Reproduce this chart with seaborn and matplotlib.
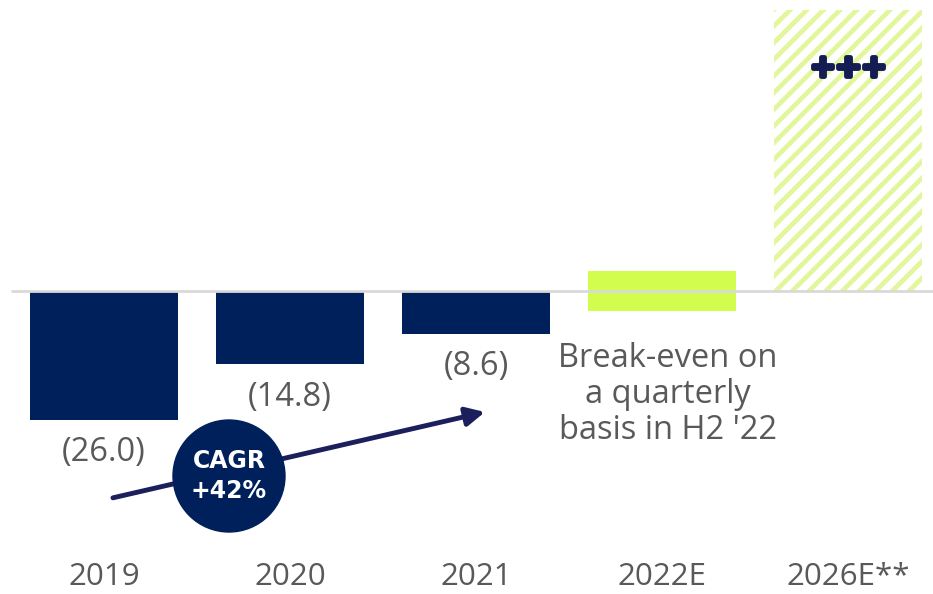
import matplotlib
matplotlib.use("Agg")
import matplotlib.pyplot as plt
import matplotlib.patheffects as pe
from matplotlib.patches import Ellipse
import seaborn as sns

# data
years = ["2019", "2020", "2021", "2022E", "2026E**"]
actual_years = ["2019", "2020", "2021"]
actual_values = [-26.0, -14.8, -8.6]
actual_labels = ["(26.0)", "(14.8)", "(8.6)"]
breakeven_year = "2022E"
breakeven_band = [4.0, -4.0]
outlook_year = "2026E**"
outlook_value = 56.7

navy = "#00205B"
lime = "#D2FC4E"
hatch_lime = "#E2F79C"
grey_text = "#595959"

sns.set_theme(style="white")
plt.rcParams["font.family"] = ["Open Sans", "DejaVu Sans"]
plt.rcParams["hatch.linewidth"] = 3.4

fig = plt.figure(figsize=(9.33, 5.94), dpi=100)
ax = fig.add_axes([0, 0, 1, 1])

# actual results
sns.barplot(x=actual_years, y=actual_values, order=years, color=navy,
            width=0.8, saturation=1, linewidth=0, ax=ax)

# 2022E break-even band
for v in breakeven_band:
    sns.barplot(x=[breakeven_year], y=[v], order=years, color=lime,
                width=0.8, saturation=1, linewidth=0, ax=ax)

# 2026E outlook, hatched
sns.barplot(x=[outlook_year], y=[outlook_value], order=years, color="white",
            width=0.8, saturation=1, ax=ax)
out_bar = ax.patches[-1]
out_bar.set_hatch("//")
out_bar.set_edgecolor(hatch_lime)
out_bar.set_linewidth(0)

ax.axhline(0, xmin=12 / 933, color="#d9d9d9", lw=2, zorder=5)

ax.set_xlim(-104 / 186, (933 - 104) / 186)
ax.set_ylim(-(594 - 291) / 4.96, 291 / 4.96)
ax.axis("off")

# value labels under the bars
for i, (v, lab) in enumerate(zip(actual_values, actual_labels)):
    ax.text(i, v - 6.65, lab, ha="center", va="center", fontsize=23.5,
            color=grey_text)

# category labels
for i, y in enumerate(years):
    ax.text(i, -57.6, y, ha="center", va="center", fontsize=22.5,
            color=grey_text)

ax.text(3.03, -20.8, "Break-even on\na quarterly\nbasis in H2 '22",
        ha="center", va="center", fontsize=23.5, color=grey_text,
        linespacing=1.12)

ax.text(4, 45, "+++", ha="center", va="center", fontsize=22,
        fontweight="bold", color="#141C54", family="DejaVu Sans",
        path_effects=[pe.withStroke(linewidth=3.5, foreground="#141C54")])

# CAGR arrow and badge
ax.annotate("", xy=(2.048, -24.4), xytext=(0.048, -41.7),
            arrowprops=dict(arrowstyle="-|>", color="#1B1F5C", lw=3.5,
                            mutation_scale=28, shrinkA=0, shrinkB=0),
            zorder=6)
ax.add_patch(Ellipse((0.672, -37.3), 112 / 186, 112 / 4.96,
                     color=navy, zorder=7))
ax.text(0.672, -37.3, "CAGR\n+42%", ha="center", va="center", fontsize=17,
        fontweight="bold", color="white", family="DejaVu Sans",
        linespacing=1.3, zorder=8)

fig.savefig("out.png", dpi=100)
